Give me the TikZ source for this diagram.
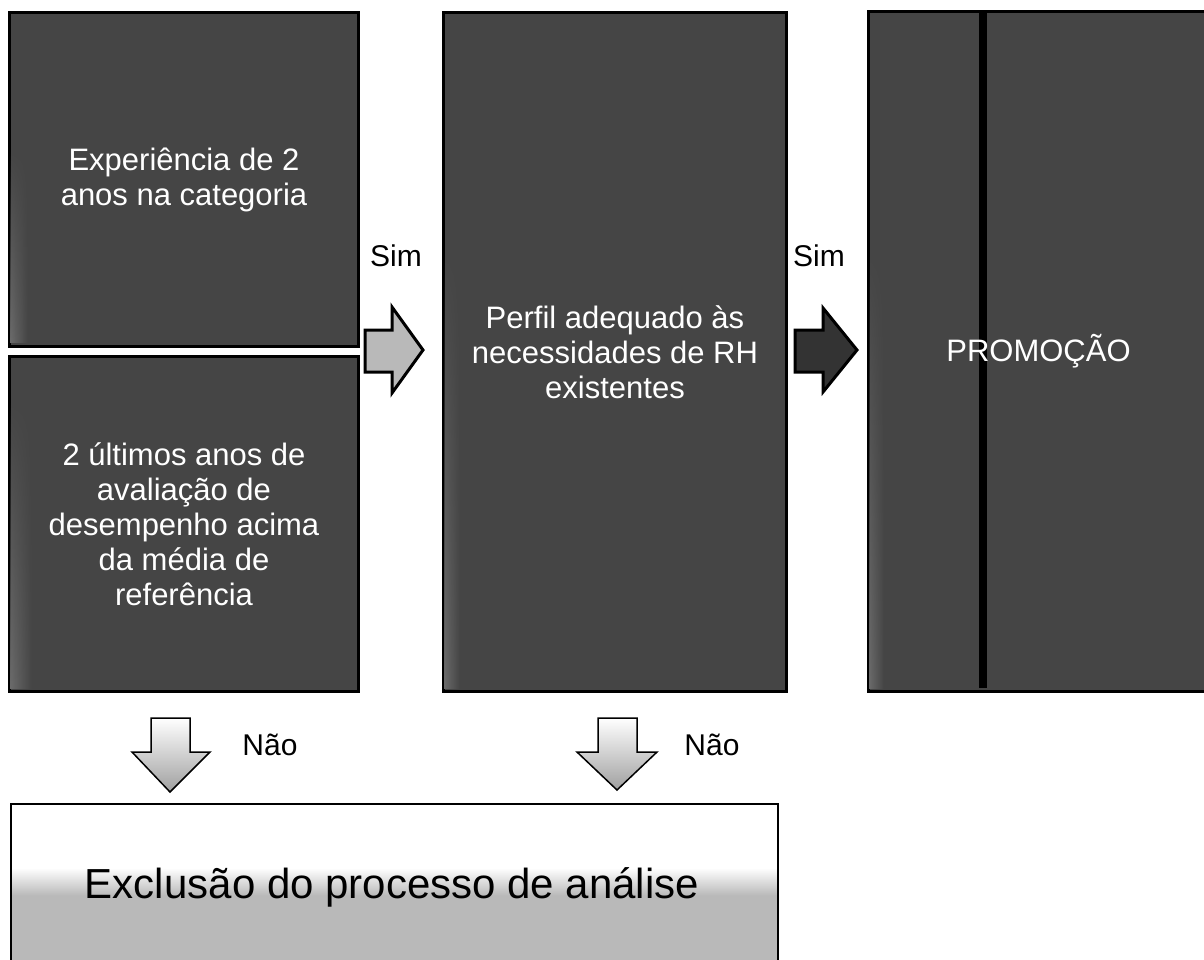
\documentclass[tikz,border=0pt]{standalone}
\usepackage{fontspec}
\setmainfont{Liberation Sans}
\usetikzlibrary{fadings}
\definecolor{boxgray}{gray}{0.27}
\definecolor{edgegray}{gray}{0.42}
\begin{document}
\begin{tikzpicture}[x=1pt,y=-1pt,
  darkbox/.style={draw=black, line width=3pt, fill=boxgray, inner sep=0pt, anchor=north west},
  boxtext/.style={text=white, align=center, font=\fontsize{31}{35}\selectfont},
  lbl/.style={font=\fontsize{30}{34}\selectfont, anchor=base, inner sep=0pt},
  blockarrow/.style={draw=black, line width=3pt, line join=miter},
  downarrow/.style={draw=black, line width=1.5pt, line join=miter, top color=white, middle color=white, bottom color=gray!75},
  edgestrip/.style={left color=edgegray, right color=boxgray, path fading=north}]
\useasboundingbox (0,0) rectangle (1204,959);
\clip (0,0) rectangle (1204,959);

% dark boxes
\node[darkbox, minimum width=349pt, minimum height=334pt] (b1) at (8,11) {};
\node[darkbox, minimum width=349pt, minimum height=335pt] (b2) at (8,355) {};
\node[darkbox, minimum width=343pt, minimum height=679pt] (b3) at (442,11) {};
\node[darkbox, minimum width=340pt, minimum height=680pt] (b4) at (867,10) {};

% lighter left edges
\shade[edgestrip] (10,150) rectangle (28,343);
\shade[edgestrip] (10,400) rectangle (32,688);
\shade[edgestrip] (444,250) rectangle (460,688);
\shade[edgestrip] (869,250) rectangle (884,688);
\draw[line width=8pt, black] (983,12) -- (983,688);

% texts in boxes
\node[boxtext] (t1) at (b1.center) {Experiência de 2\\anos na categoria};
\node[boxtext] (t2) at (b2.center) {2 últimos anos de\\avaliação de\\desempenho acima\\da média de\\referência};
\node[boxtext] (t3) at (b3.center) {Perfil adequado às\\necessidades de RH\\existentes};
\node[boxtext] (t4) at (b4.center) {PROMOÇÃO};

% right block arrows
\draw[blockarrow, fill=gray!55] (365,330) -- (392,330) -- (392,307) -- (423,350) -- (392,393) -- (392,372) -- (365,372) -- cycle;
\draw[blockarrow, fill=black!80] (795,330) -- (823,330) -- (823,308) -- (857,350) -- (823,392) -- (823,372) -- (795,372) -- cycle;
\node[lbl] (sim1) at (396,266) {Sim};
\node[lbl] (sim2) at (819,266) {Sim};

% down arrows
\draw[downarrow] (151,718) -- (190,718) -- (190,752) -- (210,752) -- (170,792) -- (132,752) -- (151,752) -- cycle;
\draw[downarrow] (598,718) -- (637,718) -- (637,752) -- (657,752) -- (617,790) -- (577,752) -- (598,752) -- cycle;
\node[lbl] (nao1) at (270,755) {Não};
\node[lbl] (nao2) at (712,755) {Não};

% exclusion box
\fill[gray!55] (10,895) rectangle (777,965);
\shade[top color=white, bottom color=gray!55] (10,868) rectangle (777,895.5);
\node[draw=black, line width=2pt, minimum width=767pt, minimum height=170pt, anchor=north west, inner sep=0pt] (ex) at (10,803) {};
\node[font=\fontsize{42}{48}\selectfont, anchor=base, inner sep=0pt] (ext) at (392,898) {Exclusão do processo de análise};
\end{tikzpicture}
\end{document}
